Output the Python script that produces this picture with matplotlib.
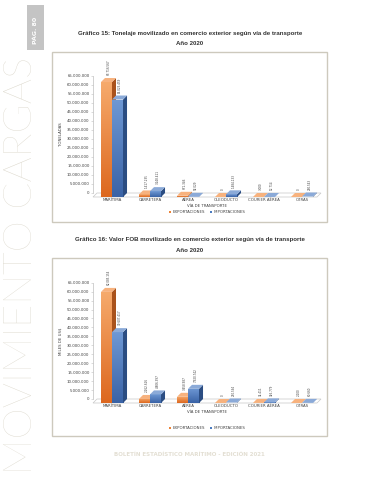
import matplotlib
matplotlib.use("Agg")
import matplotlib.pyplot as plt
from matplotlib.patches import Polygon, Rectangle
from matplotlib.colors import LinearSegmentedColormap
import numpy as np

# ---------------- data ----------------
categories = ["MARÍTIMA", "CARRETERA", "AÉREA", "OLEODUCTO", "COURIER AÉREA", "OTRAS"]
tons_export = [63716567, 1417235, 671346, 0, 3000, 0]
tons_import = [54023459, 3248411, 92029, 1484133, 12714, 260543]
fob_export = [62085154, 2262616, 3458987, 0, 34411, 2100]
fob_import = [39607417, 4806397, 7920742, 270564, 346779, 60660]
yticks_vals = list(range(0, 65000001, 5000000))
series_names = ["EXPORTACIONES", "IMPORTACIONES"]
title15 = ["Gráfico 15: Tonelaje movilizado en comercio exterior según vía de transporte", "Año 2020"]
title16 = ["Gráfico 16: Valor FOB movilizado en comercio exterior según vía de transporte", "Año 2020"]

W, H = 370, 480
fig = plt.figure(figsize=(W / 100, H / 100), dpi=100)
fig.patch.set_facecolor("white")

def fx(x):
    return x / W

def fy(y):
    return 1 - y / H

def axes_px(l, t, r, b):
    return fig.add_axes([fx(l), fy(b), (r - l) / W, (b - t) / H])

def fmt(v):
    return f"{int(v):,}".replace(",", ".")

ORANGE = dict(front="#EC8337", light="#F6AA6C", dark="#DD681F", side="#A9521C", top="#F7B27E")
BLUE = dict(front="#4C7CC0", light="#6E98D4", dark="#3A63A6", side="#2B4D82", top="#8BAAD8")
GRAD = np.linspace(0, 1, 64).reshape(-1, 1)

def bar3d(ax, x0, w, v, col, dx, dy, z):
    rect = Rectangle((x0, -dy), w, v, facecolor=col["front"], edgecolor="none", zorder=z, clip_on=False)
    ax.add_patch(rect)
    if v > 0:
        cmap = LinearSegmentedColormap.from_list("g", [col["dark"], col["light"]])
        im = ax.imshow(GRAD, extent=(x0, x0 + w, -dy, v - dy), origin="lower", cmap=cmap,
                       aspect="auto", interpolation="bilinear", zorder=z + 0.1)
        im.set_clip_path(rect)
    ax.add_patch(Polygon([(x0 + w, -dy), (x0 + w + dx, 0), (x0 + w + dx, v), (x0 + w, v - dy)],
                         closed=True, facecolor=col["side"], edgecolor="none", zorder=z + 0.2, clip_on=False))
    ax.add_patch(Polygon([(x0, v - dy), (x0 + w, v - dy), (x0 + w + dx, v), (x0 + dx, v)],
                         closed=True, facecolor=col["top"], edgecolor="none", zorder=z + 0.2, clip_on=False))

def chart(l, t, r, b, exp, imp, ylabel):
    ax = axes_px(l, t, r, b)
    for s in ["top", "right", "bottom"]:
        ax.spines[s].set_visible(False)
    ax.spines["left"].set_color("#bfbfbf")
    ax.spines["left"].set_linewidth(0.5)
    ax.patch.set_alpha(0)
    ppx_y = 65000000 / (b - t)
    ppx_x = 6 / (r - l)
    dy = 4 * ppx_y
    dx = 4 * ppx_x
    ax.add_patch(Polygon([(-0.5, -dy), (5.5 - dx, -dy), (5.5, 0), (-0.5 + dx, 0)], closed=True,
                         facecolor="white", edgecolor="#c8c8c8", lw=0.5, zorder=1, clip_on=False))
    w = 0.29
    for i, (e, m) in enumerate(zip(exp, imp)):
        bar3d(ax, i - w, w, e, ORANGE, dx, dy, 3)
        bar3d(ax, i, w, m, BLUE, dx, dy, 4)
        ax.annotate(fmt(e), (i - w / 2 + dx / 2, e), xytext=(0, 2), textcoords="offset points",
                    rotation=90, fontsize=2.0, color="#404040", ha="center", va="bottom", zorder=6)
        ax.annotate(fmt(m), (i + w / 2 + dx / 2, m), xytext=(0, 2), textcoords="offset points",
                    rotation=90, fontsize=2.0, color="#404040", ha="center", va="bottom", zorder=6)
    ax.set_xlim(-0.5, 5.5)
    ax.set_ylim(0, 65000000)
    ax.set_yticks(yticks_vals)
    ax.set_yticklabels([fmt(v) for v in yticks_vals], fontsize=2.8, color="#404040")
    ax.tick_params(axis="y", length=1.5, width=0.4, color="#bfbfbf", pad=1)
    ax.set_xticks(range(len(categories)))
    ax.set_xticklabels(categories, fontsize=2.8, color="#404040")
    ax.tick_params(axis="x", length=0, pad=3.5)
    ax.set_ylabel(ylabel, fontsize=2.8, color="#404040", labelpad=3)
    ax.set_xlabel("VÍA DE TRANSPORTE", fontsize=2.8, color="#404040", labelpad=1.2)
    return ax

def frame(l, t, r, b):
    fig.add_artist(Rectangle((fx(l), fy(b)), (r - l) / W, (b - t) / H, transform=fig.transFigure,
                             facecolor="none", edgecolor="#cdc9bd", lw=1.0))

def legend(y, cx):
    for k, (name, col) in enumerate(zip(series_names, [ORANGE["front"], BLUE["front"]])):
        x = cx - 31 + k * 41
        fig.add_artist(Rectangle((fx(x), fy(y + 1.3)), 2.4 / W, 2.4 / H, transform=fig.transFigure,
                                 facecolor=col, edgecolor="none"))
        fig.text(fx(x + 3.5), fy(y), name, fontsize=2.8, color="#404040", va="center", ha="left")

TFONT = dict(family=["Liberation Sans", "DejaVu Sans"], fontweight="bold", fontsize=4.4, color="#333333",
             ha="center", va="center")

# --- chart 15 ---
fig.text(fx(190), fy(33), title15[0], **TFONT)
fig.text(fx(190), fy(43.5), title15[1], **TFONT)
frame(52, 52, 327, 222)
chart(93, 75.7, 321, 193, tons_export, tons_import, "TONELADAS")
legend(212, 200)

# --- chart 16 ---
fig.text(fx(190), fy(240), title16[0], **TFONT)
fig.text(fx(190), fy(250), title16[1], **TFONT)
frame(52, 258, 327, 436)
chart(93, 282.7, 321, 399, fob_export, fob_import, "MILES DE US$")
legend(428, 200)

# --- page decorations ---
fig.text(fx(21), fy(265), "MOVIMIENTO CARGAS", rotation=90, fontsize=28.6, color="#dcd8cc",
         family=["Lato", "DejaVu Sans"], fontweight="light", ha="center", va="center")
fig.add_artist(Rectangle((fx(27), fy(50)), 17 / W, 45 / H, transform=fig.transFigure,
                         facecolor="#c4c4c4", edgecolor="none"))
fig.text(fx(35.5), fy(30), "PÁG. 80", rotation=90, fontsize=4.5, color="white", fontweight="bold",
         ha="center", va="center")
fig.text(fx(189), fy(454), "BOLETÍN ESTADÍSTICO MARÍTIMO - EDICIÓN 2021", fontsize=4.0,
         fontweight="bold", color="#e3dfd3", ha="center", va="center")

fig.savefig("out.png", dpi=100)
